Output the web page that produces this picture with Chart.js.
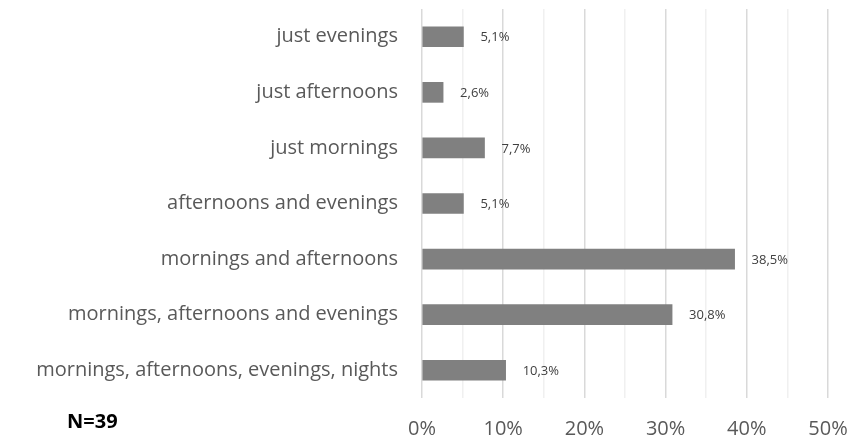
<!DOCTYPE html>
<html>
<head>
<meta charset="utf-8">
<script src="https://cdn.jsdelivr.net/npm/chart.js@4/dist/chart.umd.min.js"></script>
<style>
  html, body { margin: 0; padding: 0; background: #fff; }
  #wrap { width: 861px; height: 435px; position: relative; }
</style>
</head>
<body>
<div id="wrap"><canvas id="c"></canvas></div>
<script>
const categories = [
  'just evenings',
  'just afternoons',
  'just mornings',
  'afternoons and evenings',
  'mornings and afternoons',
  'mornings, afternoons and evenings',
  'mornings, afternoons, evenings, nights'
];
const shares = [5.1, 2.6, 7.7, 5.1, 38.5, 30.8, 10.3];
const tickValues = [0, 10, 20, 30, 40, 50];
const sampleNote = 'N=39';

const FONT = '"Open Sans", "Liberation Sans", sans-serif';
const TEXT = '#595959';

function pct(v) {
  return v.toFixed(1).replace('.', ',') + '%';
}

// value labels at the end of each bar
const barLabels = {
  id: 'barLabels',
  afterDatasetsDraw(chart) {
    const { ctx } = chart;
    const meta = chart.getDatasetMeta(0);
    ctx.save();
    ctx.font = '13px ' + FONT;
    ctx.fillStyle = '#404040';
    ctx.textAlign = 'left';
    ctx.textBaseline = 'middle';
    meta.data.forEach((bar, i) => {
      ctx.fillText(pct(shares[i]), bar.x + 17, bar.y + 1);
    });
    ctx.restore();
  }
};

// N=39 note in bottom-left corner
const note = {
  id: 'note',
  afterDraw(chart) {
    const { ctx } = chart;
    ctx.save();
    ctx.font = 'bold 20px ' + FONT;
    ctx.fillStyle = '#000';
    ctx.textAlign = 'left';
    ctx.textBaseline = 'middle';
    ctx.fillText(sampleNote, 67, 422);
    ctx.restore();
  }
};

new Chart(document.getElementById('c'), {
  type: 'bar',
  data: {
    labels: categories,
    datasets: [{
      data: shares,
      backgroundColor: '#808080',
      borderWidth: 0,
      barThickness: 20
    }]
  },
  options: {
    indexAxis: 'y',
    responsive: true,
    maintainAspectRatio: false,
    animation: false,
    layout: { padding: { top: 9, right: 33, left: 0, bottom: 0 } },
    plugins: {
      legend: { display: false },
      tooltip: { enabled: false }
    },
    scales: {
      x: {
        min: 0,
        max: 50,
        afterBuildTicks(scale) {
          const t = [];
          for (let v = 0; v <= 50; v += 5) t.push({ value: v });
          scale.ticks = t;
        },
        afterFit(scale) {
          scale.height = 37;
          scale.paddingLeft = 0;
          scale.paddingRight = 0;
        },
        border: { display: false },
        grid: {
          color: c => (c.tick && c.tick.value % 10 === 0) ? '#d9d9d9' : '#f0f0f0',
          lineWidth: 1.5,
          drawTicks: false
        },
        ticks: {
          autoSkip: false,
          maxRotation: 0,
          padding: 19,
          color: TEXT,
          font: { family: FONT, size: 20 },
          callback: v => tickValues.includes(v) ? v + '%' : ''
        }
      },
      y: {
        afterFit(scale) {
          scale.width = 422;
          scale.paddingTop = 0;
          scale.paddingBottom = 0;
        },
        border: { display: false },
        grid: { display: false, drawTicks: false },
        ticks: {
          padding: 24,
          color: TEXT,
          font: { family: FONT, size: 20 }
        }
      }
    }
  },
  plugins: [barLabels, note]
});
</script>
</body>
</html>
